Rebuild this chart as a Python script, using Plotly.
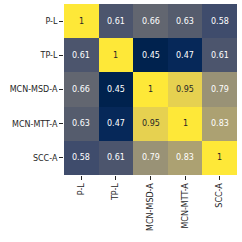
import plotly.graph_objects as go

labels = ["P-L", "TP-L", "MCN-MSD-A", "MCN-MTT-A", "SCC-A"]
corr = [
    [1.00, 0.61, 0.66, 0.63, 0.58],
    [0.61, 1.00, 0.45, 0.47, 0.61],
    [0.66, 0.45, 1.00, 0.95, 0.79],
    [0.63, 0.47, 0.95, 1.00, 0.83],
    [0.58, 0.61, 0.79, 0.83, 1.00],
]

def fmt(v):
    return "1" if v == 1 else f"{v:.2g}"

fig = go.Figure(go.Heatmap(
    z=corr, x=labels, y=labels,
    colorscale="Cividis", zmin=0.45, zmax=1.0,
    showscale=False, xgap=0, ygap=0,
))

annotations = []
for i, row in enumerate(corr):
    for j, v in enumerate(row):
        annotations.append(dict(
            x=labels[j], y=labels[i], text=fmt(v), showarrow=False,
            font=dict(size=8, family="DejaVu Sans", color="#262626" if v >= 0.9 else "white"),
        ))

fig.update_layout(
    width=242, height=242,
    margin=dict(l=64, r=5, t=4, b=67, autoexpand=False),
    paper_bgcolor="white", plot_bgcolor="white",
    annotations=annotations,
    font=dict(family="DejaVu Sans", size=8, color="#262626"),
)
fig.update_xaxes(tickangle=-90, ticks="outside", ticklen=4, tickcolor="#262626",
                 showgrid=False, zeroline=False, automargin=False, tickfont=dict(size=8))
fig.update_yaxes(autorange="reversed", ticks="outside", ticklen=4, tickcolor="#262626",
                 showgrid=False, zeroline=False, automargin=False, tickfont=dict(size=8))

fig.write_html("out.html", config={"displayModeBar": False},
               post_script="document.body.style.margin='0';document.body.style.padding='0';")
